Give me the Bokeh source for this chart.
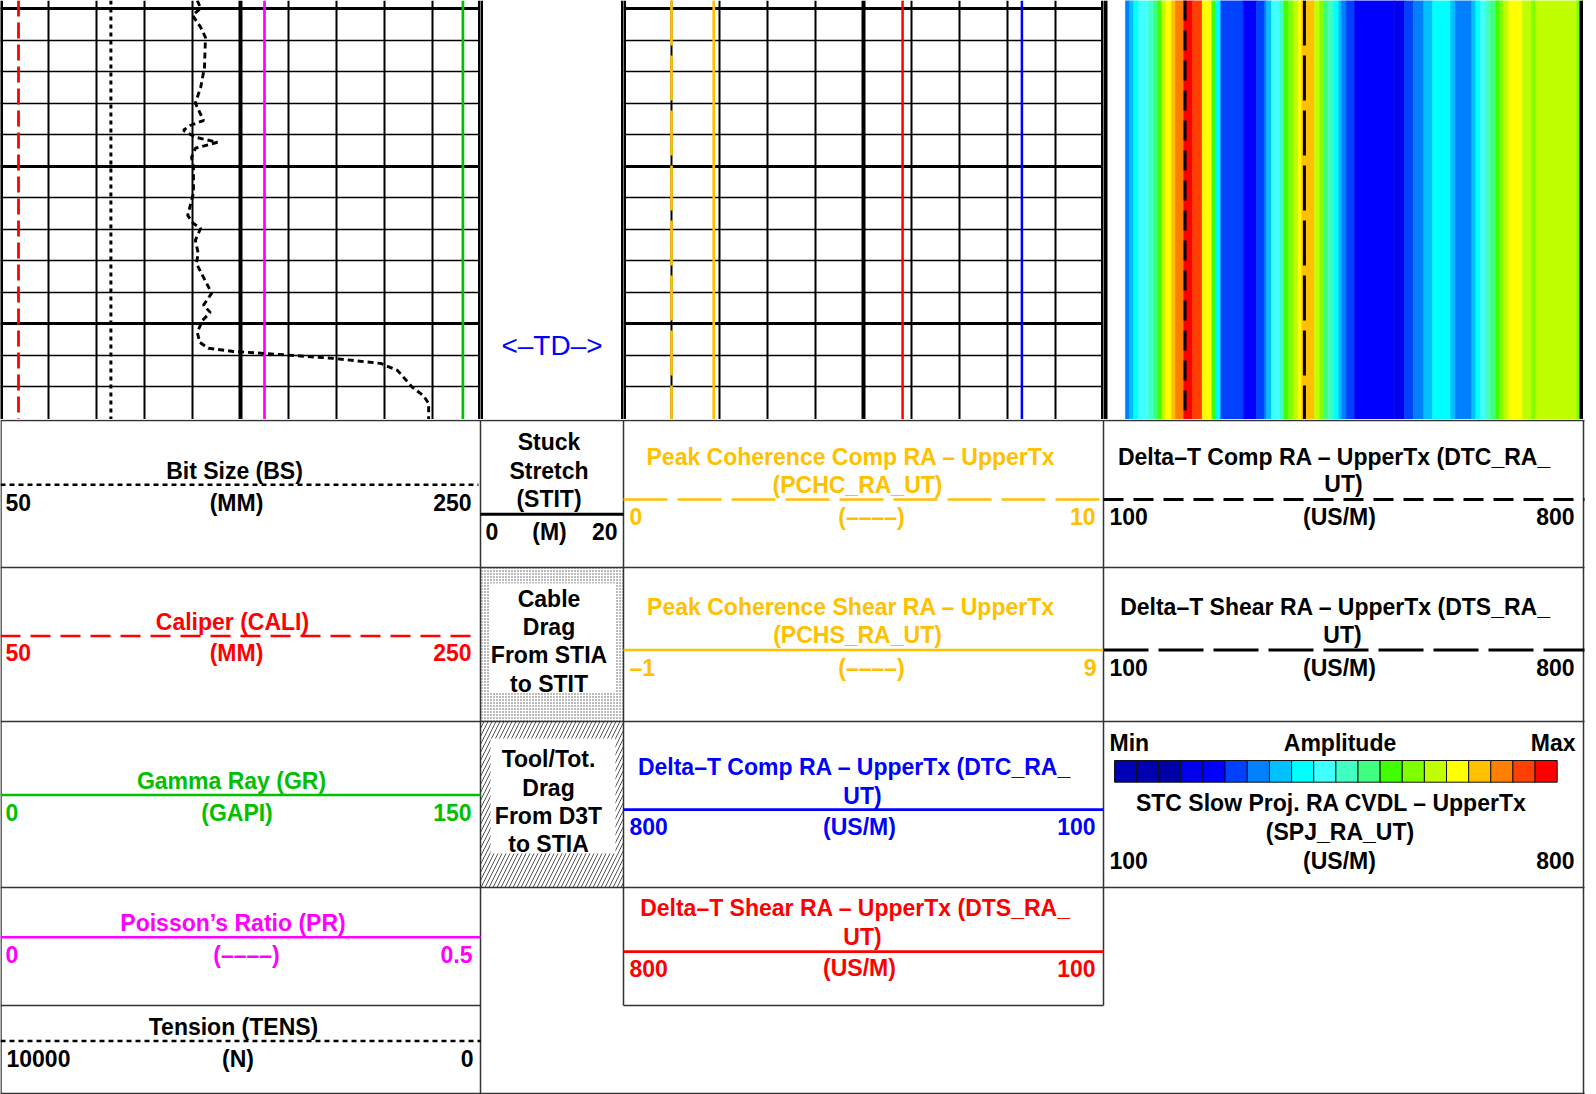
from bokeh.plotting import figure
from bokeh.models import Range1d, Span, FixedTicker, LinearColorMapper, ColumnDataSource
from bokeh.layouts import column, row
from bokeh.embed import file_html
from bokeh.resources import INLINE
from bokeh.core.properties import value

# ---------------- DATA ----------------
depth_top = 1484.74
depth_bottom = 1498.04
depth_major = [1485, 1490, 1495]
depth_minor = [1486, 1487, 1488, 1489, 1491, 1492, 1493, 1494, 1496, 1497]

# Tension (N), scale 10000 -> 0
tens_depth = [1484.74, 1484.99, 1485.21, 1485.59, 1485.91, 1486.86, 1487.50, 1488.00, 1488.55, 1488.70,
              1488.86, 1489.08, 1489.24, 1489.43, 1489.72, 1490.03, 1490.86, 1491.56, 1491.82, 1491.97,
              1492.35, 1492.77, 1493.08, 1493.53, 1494.03, 1494.41, 1494.64, 1494.89, 1495.27, 1495.59,
              1495.78, 1495.88, 1495.94, 1496.10, 1496.26, 1496.48, 1497.02, 1497.28, 1497.53, 1498.04]
tens_value = [5900, 5830, 6000, 5830, 5730, 5750, 5830, 5940, 5770, 6040,
              6190, 5940, 5480, 5940, 6020, 5980, 5980, 6100, 5980, 5830,
              5940, 5880, 5920, 5770, 5600, 5770, 5630, 5790, 5900, 5850,
              5670, 5150, 4520, 3060, 2080, 1730, 1420, 1190, 1080, 1080]

const_depth = [depth_top, depth_bottom]
cali_value = [57.5, 57.5]
bs_value = [96.0, 96.0]
gr_value = [144.5, 144.5]
pr_value = [0.275, 0.275]
pchc_value = [1.0, 1.0]
pchs_value = [0.88, 0.88]
dtc_value = [219, 219]
dts_value = [393, 393]
td_depth = 1495.7

# STC slowness projection (VDL) : slowness bin edges (US/M) and amplitude class
spj_edges = [132, 138, 144, 151, 166, 173, 179, 185, 190, 199, 205, 217, 230, 244, 258, 263, 271, 304,
             323, 335, 338, 345, 357, 363, 370, 377, 384, 389, 408, 415, 421, 428, 435, 443, 447, 454,
             466, 524, 539, 552, 567, 580, 606, 613, 637, 643, 650, 657, 664, 672, 678, 683, 691, 711,
             724, 730, 790, 800]
spj_amp = [6, 7, 8, 9, 10, 11, 12, 14, 15, 16, 17, 19, 18, 15, 12, 8, 5, 4, 5, 6,
           7, 9, 10, 12, 13, 14, 15, 16, 14, 13, 11, 10, 8, 7, 6, 5, 4, 3, 5, 6,
           7, 8, 7, 6, 7, 8, 9, 10, 11, 12, 13, 14, 15, 14, 13, 14, 13]
amp_palette = ["#0000B4", "#0000B0", "#0000A8", "#0000EE", "#0000FF", "#0040FF", "#0080FF",
               "#00C0FF", "#00FFFF", "#40FFFF", "#40FFC0", "#40FF80", "#40FF00", "#80FF00",
               "#C0FF00", "#FFFF00", "#FFC000", "#FF8000", "#FF4000", "#FF0000"]

# curve scales (left, right)
bs_scale = [50, 250]
cali_scale = [50, 250]
gr_scale = [0, 150]
pr_scale = [0, 0.5]
tens_scale = [10000, 0]
stit_scale = [0, 20]
pchc_scale = [0, 10]
pchs_scale = [-1, 9]
dt3_scale = [800, 100]
dt4_scale = [100, 800]

# ---------------- STYLE ----------------
AMBER = "#FFC000"
GREEN = "#00C000"
MAGENTA = "#FF00FF"
RED = "#FF0000"
BLUE = "#0000FF"
FONT = value("Liberation Sans")
FS = "23px"
TEXT_DY = -8
TRACK_H = 419
HEADER_H = 675

yr = Range1d(depth_bottom, depth_top)


def track(width, xr):
    p = figure(width=width, height=TRACK_H, x_range=xr, y_range=yr,
               output_backend="svg", toolbar_location=None, min_border=0,
               x_axis_location=None, y_axis_location=None, outline_line_color=None,
               background_fill_color="white", border_fill_color="white")
    return p


def depth_grid(p, xmajor, xminor):
    p.ygrid.ticker = FixedTicker(ticks=depth_major, minor_ticks=depth_minor)
    p.ygrid.grid_line_color = "black"
    p.ygrid.grid_line_width = 3
    p.ygrid.minor_grid_line_color = "black"
    p.ygrid.minor_grid_line_width = 1.5
    p.xgrid.ticker = FixedTicker(ticks=xmajor, minor_ticks=xminor)
    p.xgrid.grid_line_color = "black"
    p.xgrid.grid_line_width = 4
    p.xgrid.minor_grid_line_color = "black"
    p.xgrid.minor_grid_line_width = 2


def borders(p, lo, hi, wl=5, wr=5):
    p.add_layout(Span(location=lo, dimension="height", line_color="black", line_width=wl))
    p.add_layout(Span(location=hi, dimension="height", line_color="black", line_width=wr))


# ---- Track 1 ----
t1 = track(480, Range1d(*cali_scale))
t1.extra_x_ranges = {"bs": Range1d(*bs_scale), "gr": Range1d(*gr_scale),
                     "pr": Range1d(*pr_scale), "tens": Range1d(*tens_scale)}
step = (cali_scale[1] - cali_scale[0]) / 10
mid = (cali_scale[0] + cali_scale[1]) / 2
depth_grid(t1, [mid], [cali_scale[0] + step * i for i in range(1, 10) if i != 5])
t1.line(cali_value, const_depth, line_color=RED, line_width=2.8, line_dash="16 6")
t1.line(bs_value, const_depth, x_range_name="bs", line_color="black", line_width=3, line_dash="4 4")
t1.line(gr_value, const_depth, x_range_name="gr", line_color=GREEN, line_width=2.7)
t1.line(pr_value, const_depth, x_range_name="pr", line_color=MAGENTA, line_width=2.7)
t1.line(tens_value, tens_depth, x_range_name="tens", line_color="black", line_width=2.9, line_dash="6 4")
borders(t1, cali_scale[0], cali_scale[1])

# ---- Track 2 (depth / TD) ----
t2 = track(143, Range1d(*stit_scale))
t2.grid.visible = False
t2.text(x=[(stit_scale[0] + stit_scale[1]) / 2], y=[td_depth], text=["<–TD–>"], text_align="center",
        text_baseline="alphabetic", text_font=FONT, text_font_size="28px", text_color=BLUE)
borders(t2, stit_scale[0], stit_scale[1])

# ---- Track 3 ----
t3 = track(480, Range1d(*pchc_scale))
t3.extra_x_ranges = {"pchs": Range1d(*pchs_scale), "dt": Range1d(*dt3_scale)}
step3 = (pchc_scale[1] - pchc_scale[0]) / 10
depth_grid(t3, [(pchc_scale[0] + pchc_scale[1]) / 2],
           [pchc_scale[0] + step3 * i for i in range(1, 10) if i != 5])
t3.line(pchc_value, const_depth, line_color=AMBER, line_width=2.7, line_dash="45 10")
t3.line(pchs_value, const_depth, x_range_name="pchs", line_color=AMBER, line_width=2.7)
t3.line(dts_value, const_depth, x_range_name="dt", line_color=RED, line_width=2.5)
t3.line(dtc_value, const_depth, x_range_name="dt", line_color=BLUE, line_width=2.5)
borders(t3, pchc_scale[0], pchc_scale[1])

# ---- Track 4 (VDL) ----
t4 = track(480, Range1d(*dt4_scale))
t4.grid.visible = False
mapper = LinearColorMapper(palette=amp_palette, low=-0.5, high=len(amp_palette) - 0.5)
vdl = ColumnDataSource(dict(left=spj_edges[:-1], right=spj_edges[1:], amp=spj_amp))
t4.quad(left="left", right="right", bottom=depth_bottom, top=depth_top, source=vdl,
        fill_color={"field": "amp", "transform": mapper},
        line_color={"field": "amp", "transform": mapper}, line_width=0.6)
t4.line(dtc_value, const_depth, line_color="black", line_width=3, line_dash="20 10")
t4.line(dts_value, const_depth, line_color="black", line_width=3, line_dash="45 10")
borders(t4, dt4_scale[0], dt4_scale[1], wl=8, wr=8)

# ---------------- HEADER ----------------
h = figure(width=1596, height=HEADER_H, x_range=Range1d(0, 1596), y_range=Range1d(1094, 419),
           output_backend="svg", toolbar_location=None, min_border=0,
           x_axis_location=None, y_axis_location=None, outline_line_color=None,
           background_fill_color="white", border_fill_color="white")
h.grid.visible = False


def fmt(v):
    s = ("%g" % v)
    return s.replace("-", "–")


def htext(x, y, s, color="black", align="center"):
    h.text(x=[x], y=[y + TEXT_DY], text=[s], text_align=align, text_baseline="alphabetic",
           text_font=FONT, text_font_style="bold", text_font_size=FS, text_color=color)


def hline(x0, x1, y, color, dash="solid", width=2.5):
    h.line([x0, x1], [y, y], line_color=color, line_dash=dash, line_width=width)


def scale_labels(xl, xc, xr, y, scale, unit, color="black"):
    htext(xl, y, fmt(scale[0]), color, "left")
    htext(xc, y, unit, color, "center")
    htext(xr, y, fmt(scale[1]), color, "right")


# hatched cells (track 2 column)
h.quad(left=480, right=623, top=567, bottom=721, fill_color="white", line_color=None,
       hatch_pattern=".", hatch_color="#555555", hatch_scale=3, hatch_weight=1)
h.quad(left=489, right=615, top=583, bottom=692, fill_color="white", line_color=None)
h.quad(left=480, right=623, top=721, bottom=887, fill_color="white", line_color=None,
       hatch_pattern="/", hatch_color="#555555", hatch_scale=8, hatch_weight=1)
h.quad(left=490, right=615, top=738, bottom=853, fill_color="white", line_color=None)

# cell borders
hx0 = [0, 0, 0, 0, 0, 623, 0]
hx1 = [1584, 1584, 1584, 1584, 480, 1103, 1584]
hy = [420, 567, 721, 887, 1005, 1005, 1093]
h.segment(x0=hx0, y0=hy, x1=hx1, y1=hy, line_color="#333333", line_width=1.5)
vx = [0.5, 480, 623, 1103, 1583]
vy1 = [1094, 1094, 1005, 1005, 1094]
h.segment(x0=vx, y0=[420] * 5, x1=vx, y1=vy1, line_color="#333333", line_width=1.5)

# Track 1 column
htext(234, 478.3, "Bit Size (BS)")
hline(0, 478, 484.3, "black", "5 4")
scale_labels(5, 236, 471, 510, bs_scale, "(MM)")

htext(232, 629.3, "Caliper (CALI)", RED)
hline(0, 480, 635.5, RED, "20 10")
scale_labels(5, 236, 471, 660, cali_scale, "(MM)", RED)

htext(231, 788.3, "Gamma Ray (GR)", GREEN)
hline(0, 480, 794.5, GREEN)
scale_labels(5, 236.5, 471, 820, gr_scale, "(GAPI)", GREEN)

htext(232.5, 930, "Poisson’s Ratio (PR)", MAGENTA)
hline(0, 480, 936.7, MAGENTA)
scale_labels(5, 246, 472, 962, pr_scale, "(––––)", MAGENTA)

htext(233, 1034, "Tension (TENS)")
hline(0, 480, 1040.5, "black", "5 4")
scale_labels(6, 237.5, 473, 1066, tens_scale, "(N)")

# Track 2 column
for s, y in zip(["Stuck", "Stretch", "(STIT)"], [449.3, 478, 506.7]):
    htext(548.5, y, s)
hline(480, 623, 513.8, "black", "solid", 3)
scale_labels(485, 549, 617, 539, stit_scale, "(M)")
for s, y in zip(["Cable", "Drag", "From STIA", "to STIT"], [606, 634.4, 662.8, 691.2]):
    htext(548.5, y, s)
for s, y in zip(["Tool/Tot.", "Drag", "From D3T", "to STIA"], [766, 795, 823.5, 851.5]):
    htext(548, y, s)

# Track 3 column
htext(850.5, 464.3, "Peak Coherence Comp RA – UpperTx", AMBER)
htext(857, 492.7, "(PCHC_RA_UT)", AMBER)
hline(623, 1103, 499, AMBER, "44 10", 2.7)
scale_labels(629, 871, 1095, 524, pchc_scale, "(––––)", AMBER)

htext(850.5, 614.3, "Peak Coherence Shear RA – UpperTx", AMBER)
htext(857, 642.7, "(PCHS_RA_UT)", AMBER)
hline(623, 1103, 649.5, AMBER, "solid", 2.7)
scale_labels(629, 871, 1096, 675, pchs_scale, "(––––)", AMBER)

htext(854, 774, "Delta–T Comp RA – UpperTx (DTC_RA_", BLUE)
htext(862, 803.3, "UT)", BLUE)
hline(623, 1103, 809.2, BLUE, "solid", 2.7)
scale_labels(629, 859, 1095, 834, dt3_scale, "(US/M)", BLUE)

htext(855, 915.7, "Delta–T Shear RA – UpperTx (DTS_RA_", RED)
htext(862, 944.7, "UT)", RED)
hline(623, 1103, 951.2, RED, "solid", 2.7)
scale_labels(629, 859, 1095, 975.7, dt3_scale, "(US/M)", RED)

# Track 4 column
htext(1334, 464.3, "Delta–T Comp RA – UpperTx (DTC_RA_")
htext(1343, 491.7, "UT)")
hline(1103, 1584, 499, "black", "20 10", 3)
scale_labels(1109, 1339, 1574, 524, dt4_scale, "(US/M)")

htext(1335, 614.3, "Delta–T Shear RA – UpperTx (DTS_RA_")
htext(1342, 642.7, "UT)")
hline(1103, 1584, 649.5, "black", "45 10", 3)
scale_labels(1109, 1339, 1574, 675, dt4_scale, "(US/M)")

htext(1109, 750, "Min", "black", "left")
htext(1339.5, 750, "Amplitude")
htext(1575, 750, "Max", "black", "right")
n = len(amp_palette)
cb_l, cb_r = 1114, 1556.7
w = (cb_r - cb_l) / n
h.quad(left=[cb_l + i * w for i in range(n)], right=[cb_l + (i + 1) * w for i in range(n)],
       top=760, bottom=781.7, fill_color=amp_palette, line_color="#111111", line_width=1)
htext(1331, 810, "STC Slow Proj. RA CVDL – UpperTx")
htext(1339.5, 839.3, "(SPJ_RA_UT)")
scale_labels(1109, 1339, 1574, 868.3, dt4_scale, "(US/M)")

layout = column(row(t1, t2, t3, t4), h)
open("out.html", "w").write(file_html(layout, INLINE))
